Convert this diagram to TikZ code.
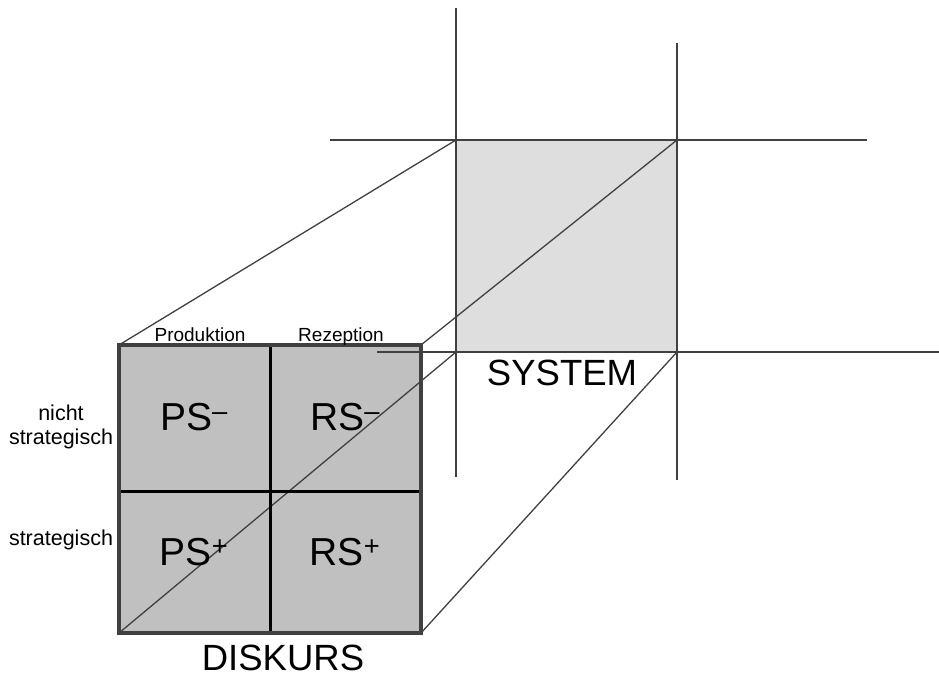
\documentclass[tikz,border=0pt]{standalone}
\usepackage{fontspec}
\setmainfont{Liberation Sans}

\definecolor{diskursgray}{HTML}{C0C0C0}
\definecolor{systemgray}{HTML}{DEDEDE}
\definecolor{linegray}{HTML}{404040}

\tikzset{
  gridline/.style={draw=linegray, line width=1.8pt},
  perspline/.style={draw=linegray, line width=1.3pt},
  cellfont/.style={font=\fontsize{39}{39}\selectfont, anchor=base},
  titlefont/.style={font=\fontsize{36.5}{36.5}\selectfont, anchor=base},
  colfont/.style={font=\fontsize{19}{20}\selectfont, anchor=base},
  rowfont/.style={font=\fontsize{21.5}{24}\selectfont, align=center},
}

\begin{document}
\begin{tikzpicture}[x=1pt, y=-1pt]

\useasboundingbox (0,0) rectangle (939,677); %% page size

%% corners of the two squares
\coordinate (sTL) at (456,140);
\coordinate (sTR) at (677,140);
\coordinate (sBL) at (456,352);
\coordinate (sBR) at (677,352);
\coordinate (dTL) at (119,345);
\coordinate (dTR) at (421,345);
\coordinate (dBL) at (119,633);
\coordinate (dBR) at (421,633);
\coordinate (dMid) at (270,491);

%% free ends of the system grid
\coordinate (vLtop) at (456,8);
\coordinate (vLbot) at (456,477);
\coordinate (vRtop) at (677,43);
\coordinate (vRbot) at (677,480);
\coordinate (hTleft) at (330,140);
\coordinate (hTright) at (867,140);
\coordinate (hBleft) at (377,352);
\coordinate (hBright) at (939,352);

%% system
\fill[systemgray] (sTL) rectangle (sBR);
\draw[gridline] (vLtop) -- (vLbot);
\draw[gridline] (vRtop) -- (vRbot);
\draw[gridline] (hTleft) -- (hTright);

%% diskurs
\fill[diskursgray] (dTL) rectangle (dBR);
\draw[gridline] (hBleft) -- (hBright);

\draw[perspline] (dTL) -- (sTL);
\draw[perspline] (dTR) -- (sTR);
\draw[perspline] (dBR) -- (sBR);
\draw[perspline] (dBL) -- (sBL);

\draw[line width=3pt] (dMid |- dTL) -- (dMid |- dBL);
\draw[line width=3pt] (dTL |- dMid) -- (dTR |- dMid);
\draw[draw=black!75, line width=4pt] (dTL) rectangle (dBR);

\node[cellfont] (psminus) at (194,430) {PS\textsuperscript{–}};
\node[cellfont] (rsminus) at (345,430) {RS\textsuperscript{–}};
\node[cellfont] (psplus) at (194,565) {PS\textsuperscript{+}};
\node[cellfont] (rsplus) at (345,565) {RS\textsuperscript{+}};

\node[colfont] (prod) at (200,341) {Produktion};
\node[colfont] (rez) at (341,341) {Rezeption};

\node[rowfont] (nstrat) at (61,427) {nicht\\strategisch};
\node[rowfont, anchor=base] (strat) at (61,545) {strategisch};

\node[titlefont] (system) at (562,385) {SYSTEM};
\node[titlefont] (diskurs) at (283,670) {DISKURS};

\end{tikzpicture}
\end{document}
